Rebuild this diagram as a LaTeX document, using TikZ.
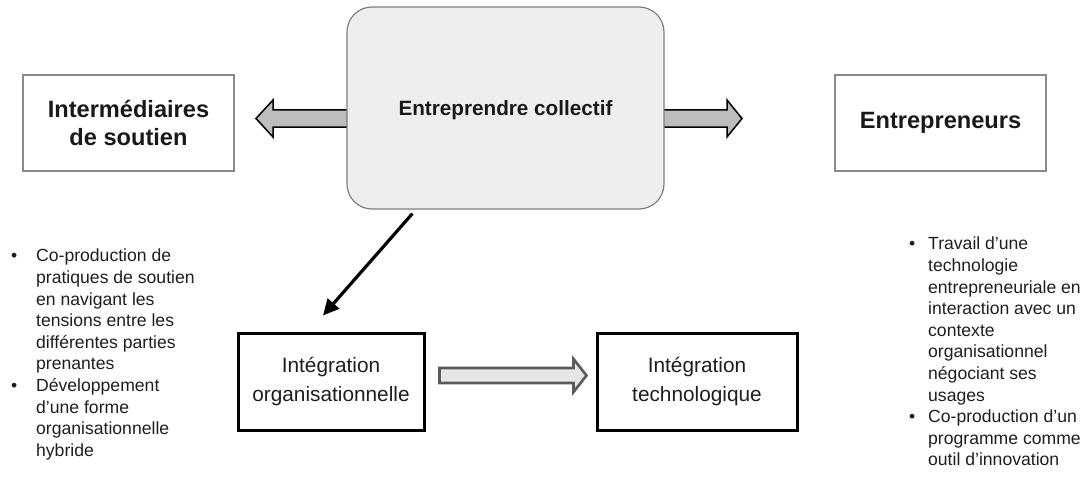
\documentclass[tikz,border=0pt]{standalone}
\usepackage{fontspec}
\setmainfont{Liberation Sans}
\usetikzlibrary{calc,arrows.meta}

\definecolor{panelfill}{HTML}{EEEEEE}
\definecolor{panelline}{HTML}{7F7F7F}
\definecolor{sideline}{HTML}{8A8A8A}
\definecolor{fatfill}{HTML}{BDBDBD}
\definecolor{hollowline}{HTML}{5A5A5A}
\definecolor{hollowfill}{HTML}{E6E6E6}
\definecolor{bodytext}{HTML}{1E1E1E}

\tikzset{
  corebox/.style={draw=panelline, line width=1.2pt, fill=panelfill,
    rounded corners=25pt, minimum width=317pt, minimum height=202pt,
    inner sep=0pt, text height=15pt, text depth=0pt,
    font=\fontsize{20.7}{24}\selectfont\bfseries, text=black!90},
  actorbox/.style={draw=sideline, line width=1.3pt, fill=white,
    minimum width=211pt, minimum height=96pt, inner sep=0pt, align=center,
    font=\fontsize{23.6}{28}\selectfont\bfseries, text=black!90},
  stagebox/.style={draw=black, line width=3pt, fill=white,
    minimum height=97pt, inner sep=0pt, align=center,
    font=\fontsize{20.8}{28.5}\selectfont, text=bodytext},
  fatarrow/.style={draw=black, line width=1.5pt, fill=fatfill, line join=miter},
  hollowarrow/.style={draw=hollowline, line width=2.6pt, fill=hollowfill, line join=miter},
  linkarrow/.style={draw=black, line width=3.2pt,
    -{Triangle[length=16pt,width=15pt]}},
  bulletlist/.style={inner sep=0pt, anchor=north west, align=left,
    font=\fontsize{17.6}{21.6}\selectfont, text=bodytext}
}

\begin{document}
\begin{tikzpicture}[x=1pt,y=-1pt]
  \useasboundingbox (0,0) rectangle (1091,476);

  % side actors
  \node[actorbox] (inter) at (128.5,123) {Intermédiaires\\de soutien};
  \node[actorbox] (entr)  at (940.5,123) {Entrepreneurs};

  % block arrows leaving the central box (drawn beneath it)
  \coordinate (lefttip)  at (256,118.5);
  \coordinate (righttip) at (742,118.5);
  \draw[fatarrow] (360,110) -- ($(lefttip)+(17,-8.5)$) -- ($(lefttip)+(17,-18.5)$)
     -- (lefttip) -- ($(lefttip)+(17,18.5)$) -- ($(lefttip)+(17,8.5)$) -- (360,127);
  \draw[fatarrow] (650,110) -- ($(righttip)+(-15,-8.5)$) -- ($(righttip)+(-15,-18.5)$)
     -- (righttip) -- ($(righttip)+(-15,18.5)$) -- ($(righttip)+(-15,8.5)$) -- (650,127);

  % central notion
  \node[corebox] (core) at (505.5,108) {Entreprendre collectif};

  % integration stages
  \node[stagebox, minimum width=186pt] (org)  at (331,381.5) {Intégration\\organisationnelle};
  \node[stagebox, minimum width=200pt] (tech) at (697,381.5) {Intégration\\technologique};

  % hollow arrow between the two stages
  \coordinate (hstart) at ($(org.east)+(14,-6)$);
  \coordinate (htip)   at ($(tech.west)+(-9,-6)$);
  \draw[hollowarrow] ($(hstart)+(0,-7.5)$) -- ($(htip)+(-13,-7.5)$) -- ($(htip)+(-13,-16.5)$)
     -- (htip) -- ($(htip)+(-13,16.5)$) -- ($(htip)+(-13,7.5)$)
     -- ($(hstart)+(0,7.5)$) -- cycle;

  % link from the central box down to the organisational stage
  \coordinate (linkfrom) at ($(core.south west)+(66,4)$);
  \coordinate (linkto)   at ($(org.north)+(-8,-16)$);
  \draw[linkarrow] (linkfrom) -- (linkto);

  % bullet lists
  \node[bulletlist] (leftlist) at (11,246.5) {%
    \begin{tabular}{@{}l@{\hspace{18.8pt}}l@{}}
      \textbullet & Co-production de\\
                  & pratiques de soutien\\
                  & en navigant les\\
                  & tensions entre les\\
                  & différentes parties\\
                  & prenantes\\
      \textbullet & Développement\\
                  & d’une forme\\
                  & organisationnelle\\
                  & hybride
    \end{tabular}};
  \node[bulletlist] (rightlist) at (909,234.5) {%
    \begin{tabular}{@{}l@{\hspace{12.8pt}}l@{}}
      \textbullet & Travail d’une\\
                  & technologie\\
                  & entrepreneuriale en\\
                  & interaction avec un\\
                  & contexte\\
                  & organisationnel\\
                  & négociant ses\\
                  & usages\\
      \textbullet & Co-production d’un\\
                  & programme comme\\
                  & outil d’innovation
    \end{tabular}};
\end{tikzpicture}
\end{document}
